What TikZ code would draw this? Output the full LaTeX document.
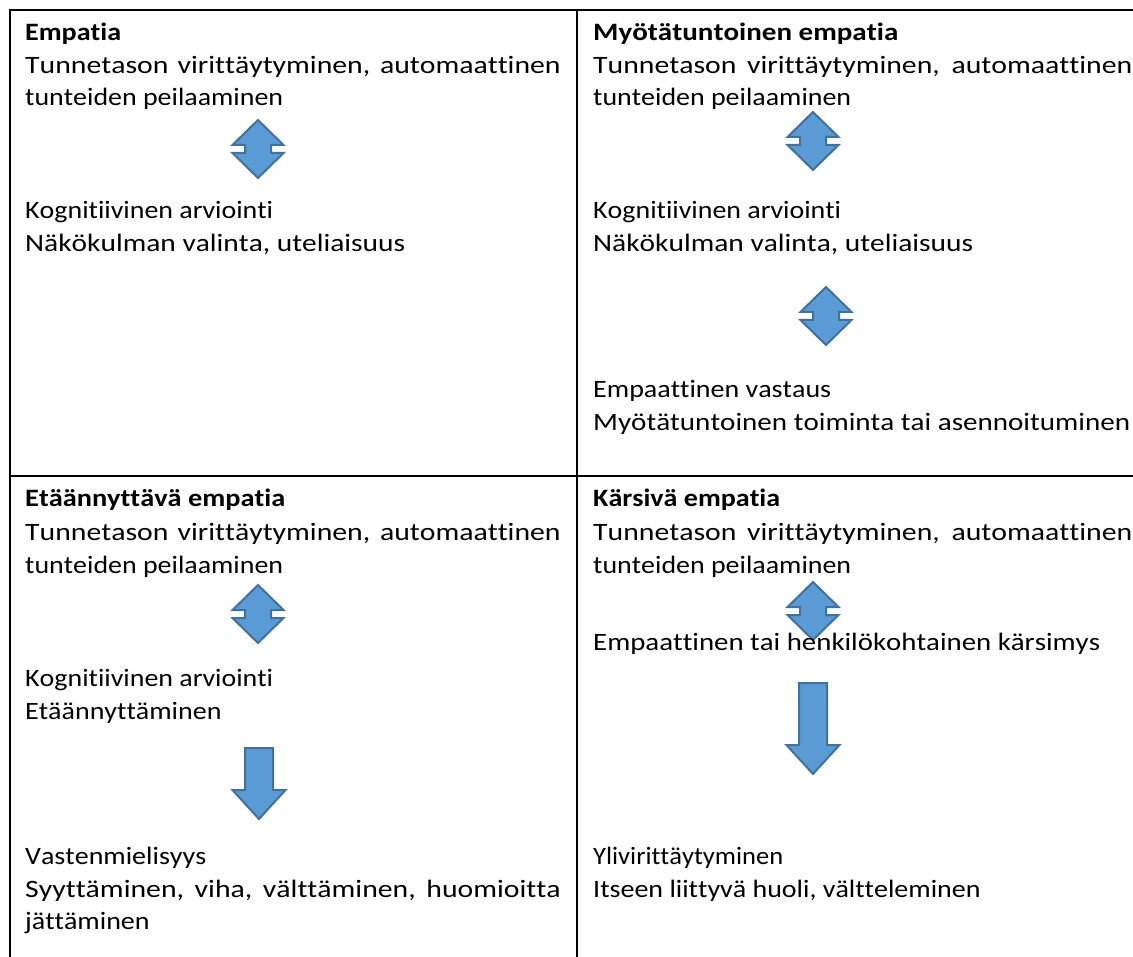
\documentclass[tikz,border=0pt]{standalone}
\usepackage{fontspec}
\setmainfont{Carlito}[Ligatures={NoCommon}, Kerning=Off]
\usepackage{graphicx}
\definecolor{arrfill}{HTML}{5B9BD5}
\definecolor{arrdraw}{HTML}{41719C}
\newcommand\sx{1.12}
\newlength\natw
\newcommand\wt[1]{\scalebox{\sx}[1]{#1}}
\newcommand\jt[2]{\scalebox{1.19}[1]{\makebox[#1][s]{#2}}}
\newcommand\fitw[2]{\settowidth\natw{#2}\pgfmathsetmacro\fitf{#1/\natw}\scalebox{\fitf}[1]{#2}}
\tikzset{
  updown/.pic={
    \draw[blockarrow] (0,-29) -- (25.5,-4) -- (13,-4) -- (13,4) -- (25.5,4)
      -- (0,29) -- (-25.5,4) -- (-13,4) -- (-13,-4) -- (-25.5,-4) -- cycle;
  },
  downarr/.pic={
    \draw[blockarrow] (-14,0) -- (14,0) -- (14,#1) -- (26.5,#1) -- (0,{#1+29})
      -- (-26.5,#1) -- (-14,#1) -- cycle;
  }
}
\begin{document}
\begin{tikzpicture}[x=1pt,y=-1pt,
    txt/.style={anchor=base west, inner sep=0, font=\fontsize{25}{30}\selectfont},
    ttl/.style={txt, font=\fontsize{25}{30}\selectfont\bfseries},
    blockarrow/.style={fill=arrfill, draw=arrdraw, line width=2, line join=miter}]
  \useasboundingbox (0,0) rectangle (1133,957);
  % table rules
  \draw[line width=2.5] (10,957) -- (10,10) -- (1133,10);
  \draw[line width=2.5] (577,10) -- (577,957);
  \draw[line width=2.5] (10,476) -- (1133,476);
  % Empatia
  \node[ttl] (tA) at (25,41) {\fitw{96pt}{Empatia}};
  \node[txt] (aA) at (25,74) {\jt{450pt}{Tunnetason virittäytyminen, automaattinen}};
  \node[txt] (bA) at (25,106) {\fitw{258pt}{tunteiden peilaaminen}};
  \pic (pA) at (258,149) {updown};
  \node[txt] (cA) at (25,219) {\fitw{248pt}{Kognitiivinen arviointi}};
  \node[txt] (dA) at (25,252) {\fitw{380pt}{Näkökulman valinta, uteliaisuus}};
  % Myotatuntoinen empatia
  \node[ttl] (tB) at (593,41) {\fitw{305pt}{Myötätuntoinen empatia}};
  \node[txt] (aB) at (593,74) {\jt{453pt}{Tunnetason virittäytyminen, automaattinen}};
  \node[txt] (bB) at (593,106) {\fitw{258pt}{tunteiden peilaaminen}};
  \pic (pB) at (813,141) {updown};
  \node[txt] (cB) at (593,219) {\fitw{248pt}{Kognitiivinen arviointi}};
  \node[txt] (dB) at (593,252) {\fitw{380pt}{Näkökulman valinta, uteliaisuus}};
  \pic (qB) at (826,316) {updown};
  \node[txt] (eB) at (593,398) {\fitw{238pt}{Empaattinen vastaus}};
  \node[txt] (fB) at (593,431) {\fitw{537pt}{Myötätuntoinen toiminta tai asennoituminen}};
  % Etaannyttava empatia
  \node[ttl] (tC) at (25,507) {\fitw{260pt}{Etäännyttävä empatia}};
  \node[txt] (aC) at (25,540) {\jt{450pt}{Tunnetason virittäytyminen, automaattinen}};
  \node[txt] (bC) at (25,573) {\fitw{258pt}{tunteiden peilaaminen}};
  \pic (pC) at (258,614) {updown};
  \node[txt] (cC) at (25,686) {\fitw{248pt}{Kognitiivinen arviointi}};
  \node[txt] (dC) at (25,719) {\wt{Etäännyttäminen}};
  \pic (qC) at (259,748) {downarr=42};
  \node[txt] (eC) at (25,864) {\wt{Vastenmielisyys}};
  \node[txt] (fC) at (25,897) {\jt{450pt}{Syyttäminen, viha, välttäminen, huomioitta}};
  \node[txt] (gC) at (25,929) {\wt{jättäminen}};
  % Karsiva empatia
  \node[ttl] (tD) at (593,507) {\fitw{187pt}{Kärsivä empatia}};
  \node[txt] (aD) at (593,540) {\jt{453pt}{Tunnetason virittäytyminen, automaattinen}};
  \node[txt] (bD) at (593,573) {\fitw{258pt}{tunteiden peilaaminen}};
  \pic (pD) at (813,611) {updown};
  \node[txt] (cD) at (593,650) {\fitw{507pt}{Empaattinen tai henkilökohtainen kärsimys}};
  \pic (qD) at (813,683) {downarr=62};
  \node[txt] (eD) at (593,864) {\fitw{190pt}{Ylivirittäytyminen}};
  \node[txt] (fD) at (593,897) {\wt{Itseen liittyvä huoli, vältteleminen}};
\end{tikzpicture}
\end{document}
